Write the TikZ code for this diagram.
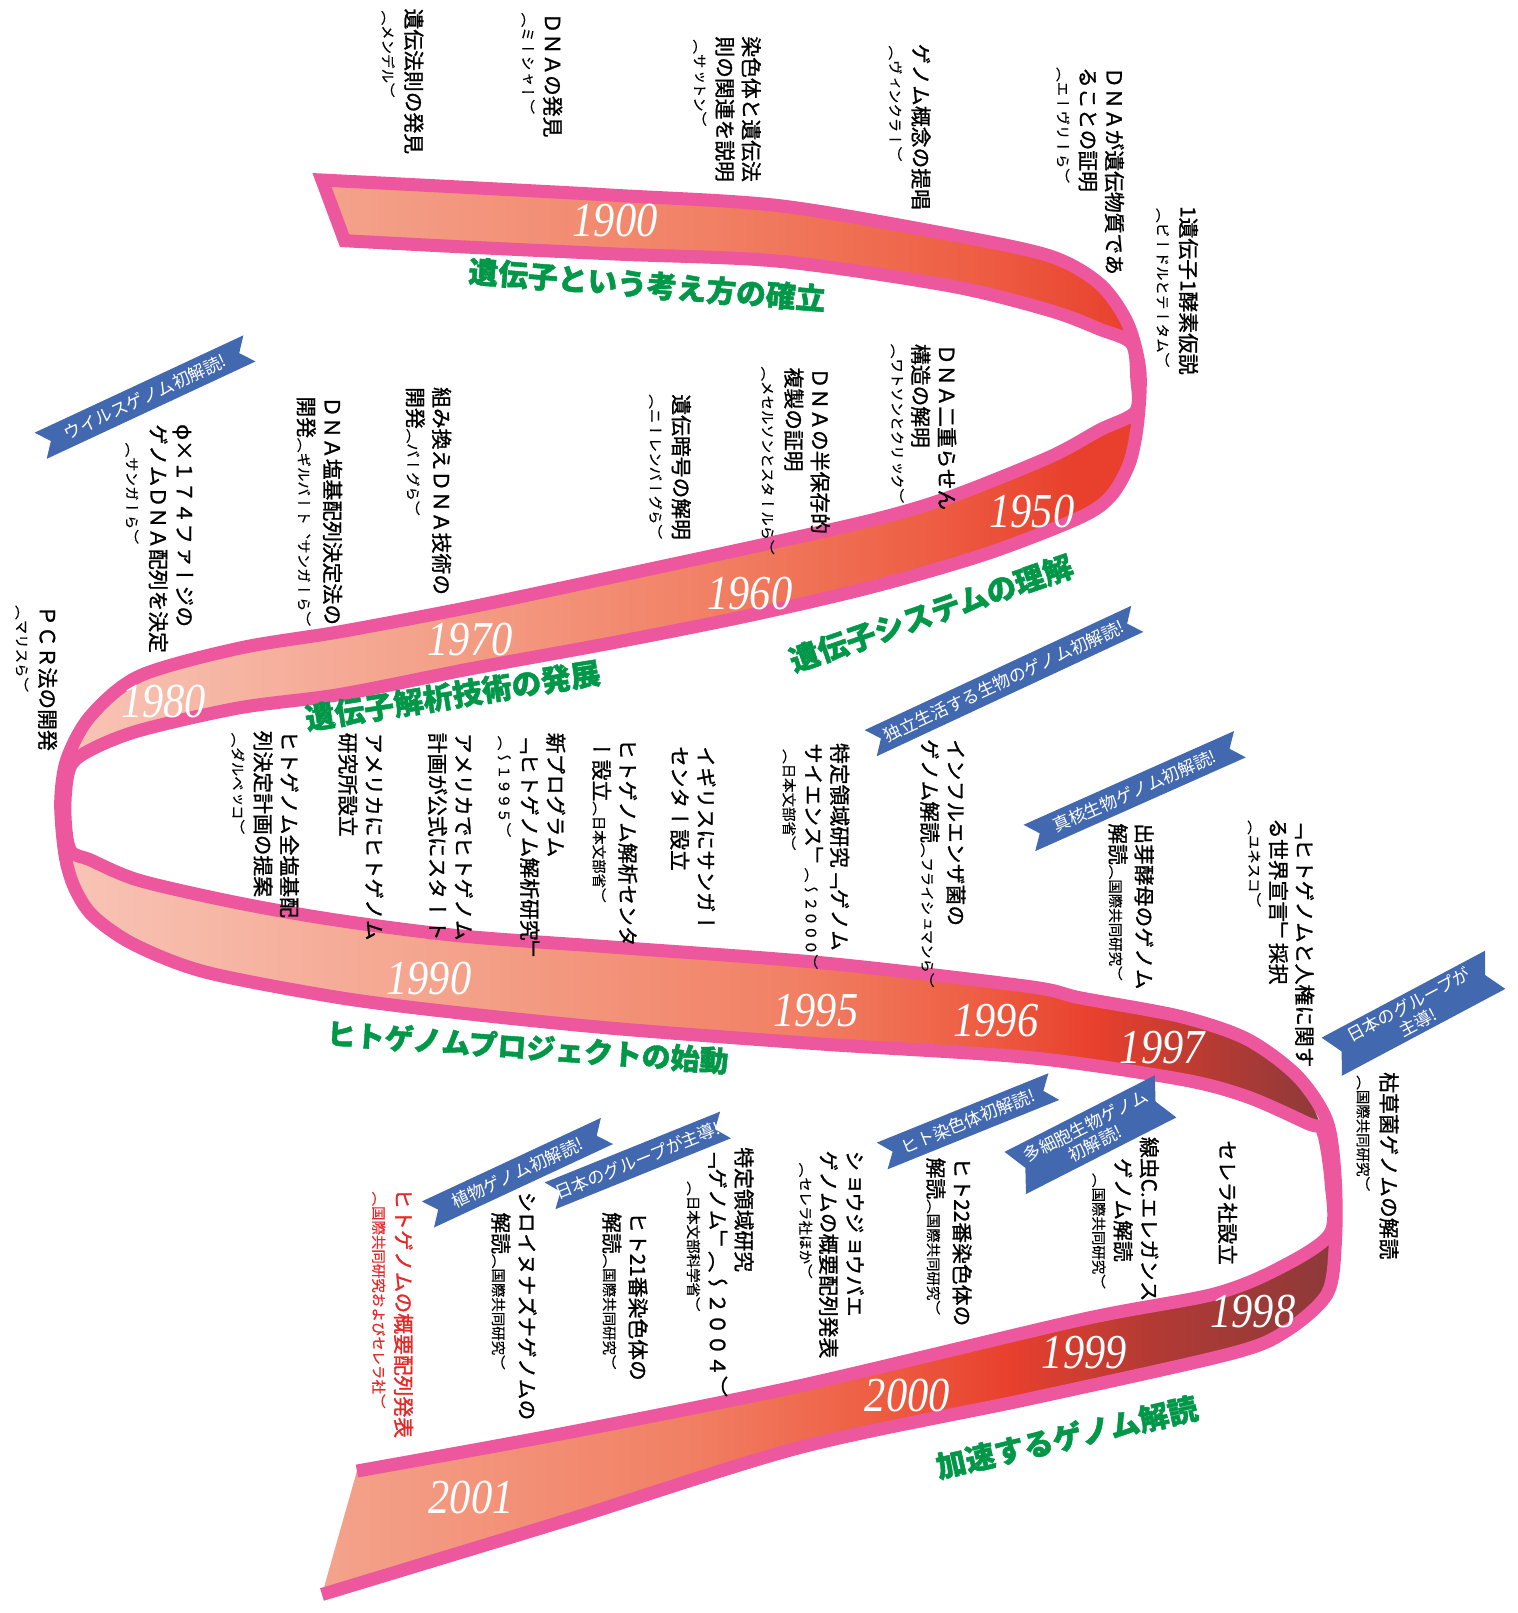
\documentclass[tikz,border=0pt]{standalone}
\usepackage{fontspec}
\usepackage{tikz}
\usetikzlibrary{positioning,calc}
\newfontfamily\jpfont{Noto Sans CJK JP}
\newfontfamily\erafont{Noto Sans CJK JP}[BoldFeatures={FakeBold=1.5}]
\newfontfamily\tatefont{Noto Sans CJK JP}[Vertical=RotatedGlyphs,FakeBold=1.2]
\newfontfamily\tatesmallfont{Noto Sans CJK JP}[Vertical=RotatedGlyphs,FakeBold=0.5]
\newfontfamily\yearfont{Liberation Serif}
\definecolor{ribbonpink}{RGB}{236,87,157}
\definecolor{titlegreen}{RGB}{0,152,72}
\definecolor{bannerblue}{RGB}{66,104,176}
\definecolor{notered}{RGB}{230,40,40}
\definecolor{ribc1}{RGB}{248,196,182}
\definecolor{ribc2}{RGB}{244,163,140}
\definecolor{ribc3}{RGB}{241,128,100}
\definecolor{ribc4}{RGB}{238,95,68}
\definecolor{ribc5}{RGB}{232,64,45}
\definecolor{ribc6}{RGB}{178,58,52}
\definecolor{ribc7}{RGB}{140,58,58}
\pgfdeclarehorizontalshading{ribA}{100bp}{color(0bp)=(ribc2); color(25bp)=(ribc2); color(49bp)=(ribc3); color(65bp)=(ribc4); color(75bp)=(ribc5); color(100bp)=(ribc5)}
\pgfdeclarehorizontalshading{ribB}{100bp}{color(0bp)=(ribc1); color(25bp)=(ribc1); color(41bp)=(ribc2); color(55bp)=(ribc3); color(65bp)=(ribc4); color(72bp)=(ribc5); color(100bp)=(ribc5)}
\pgfdeclarehorizontalshading{ribC}{100bp}{color(0bp)=(ribc1); color(25bp)=(ribc1); color(40bp)=(ribc2); color(54bp)=(ribc3); color(61bp)=(ribc4); color(66bp)=(ribc5); color(71bp)=(ribc6); color(75bp)=(ribc7); color(100bp)=(ribc7)}
\pgfdeclarehorizontalshading{ribD}{100bp}{color(0bp)=(ribc2); color(25bp)=(ribc2); color(43bp)=(ribc3); color(52bp)=(ribc4); color(59bp)=(ribc5); color(66bp)=(ribc6); color(75bp)=(ribc7); color(100bp)=(ribc7)}
\newcommand\smtext[1]{{\tatesmallfont\fontsize{8}{9.5}\selectfont #1}}
\newcommand\bannerflag[6]{%
  \begin{scope}[shift={(#2)}, rotate=#3]
    \fill[bannerblue] (-#4,-#5) -- (#4,-#5) -- ({#4-11},0) -- (#4,#5) -- (-#4,#5) -- ({-#4+11},0) -- cycle;
  \end{scope}
  \node[flagtext, rotate=#3] (#1) at (#2) {#6};}
\tikzset{
    tate/.style={rotate=-90,anchor=north west,align=left,inner sep=0pt,font=\tatefont\fontsize{11.5}{14.5}\selectfont},
    tatesmall/.style={tate,font=\tatesmallfont\fontsize{8}{9.5}\selectfont},
    era/.style={font=\erafont\bfseries\fontsize{16.5}{16.5}\selectfont,text=titlegreen,inner sep=0pt},
    year/.style={font=\yearfont\itshape\fontsize{27}{27}\selectfont,text=white,xscale=0.87,inner sep=0pt},
    flagtext/.style={font=\jpfont\fontsize{9.5}{11}\selectfont,text=white,align=center,inner sep=0pt},
    edge/.style={ribbonpink,line width=7.2pt,line join=miter}
}
\begin{document}
\begin{tikzpicture}[x=0.2mm,y=-0.2mm]
    \fill[white] (0,0) rectangle (1475,1568);
    \useasboundingbox (0,0) rectangle (1475,1568);
    % ribbon
    \shade[shading=ribA] plot[smooth] coordinates {(313,175) (450,182) (600,190) (758,200) (924,228) (1021,249) (1069,276) (1100,334)}
        -- plot[smooth] coordinates {(1069,320) (1021,302) (924,278) (758,254) (600,247) (450,240) (335,234)} -- cycle;
    \shade[shading=ribB] plot[smooth] coordinates {(1104,400) (1069,418) (1021,444) (924,483) (850,505) (730,532) (600,560) (458,590) (331,614) (233,630) (136,657) (88,696) (68,746)}
        -- plot[smooth] coordinates {(88,729) (136,710) (233,688) (331,675) (458,650) (600,624) (730,598) (850,570) (960,538) (1050,503) (1080,482) (1098,450) (1106,410)} -- cycle;
    \shade[shading=ribC] plot[smooth] coordinates {(68,826) (88,836) (136,856) (233,878) (331,895) (450,910) (600,921) (800,936) (1000,959) (1050,970) (1147,988) (1212,1010) (1261,1046) (1286,1100)}
        -- plot[smooth] coordinates {(1271,1092) (1212,1066) (1147,1049) (1000,1028) (800,1015) (600,1000) (450,985) (331,970) (200,945) (130,918) (90,890) (72,862) (64,830)} -- cycle;
    \shade[shading=ribD] plot[smooth] coordinates {(1293,1199) (1245,1232) (1180,1258) (1050,1283) (778,1347) (550,1393) (347,1430)}
        -- plot[smooth] coordinates {(313,1550) (550,1478) (778,1407) (1000,1360) (1196,1316) (1250,1294) (1290,1258) (1298,1210)} -- cycle;
    \draw[edge] plot[smooth] coordinates {(313,1550) (550,1478) (778,1407) (1000,1360) (1196,1316) (1250,1294) (1290,1258) (1298,1210) (1298,1147) (1290,1090) (1261,1046) (1212,1010) (1147,988) (1050,970) (1000,959) (800,936) (600,921) (450,910) (331,895) (233,878) (136,856) (88,836) (68,826) (63,786) (68,746) (88,729) (136,710) (233,688) (331,675) (458,650) (600,624) (730,598) (850,570) (960,538) (1050,503) (1080,482) (1098,450) (1106,410) (1108,360) (1096,314) (1069,276) (1021,249) (924,228) (758,200) (600,190) (450,182) (313,175)}
        -- plot[smooth] coordinates {(335,234) (450,240) (600,247) (758,254) (924,278) (1021,302) (1069,320) (1100,334) (1105,367) (1104,400) (1069,418) (1021,444) (924,483) (850,505) (730,532) (600,560) (458,590) (331,614) (233,630) (136,657) (88,696) (65,738) (59,780) (63,830) (72,862) (90,890) (130,918) (200,945) (331,970) (450,985) (600,1000) (800,1015) (1000,1028) (1147,1049) (1212,1066) (1271,1092) (1286,1100) (1294,1150) (1293,1199) (1245,1232) (1180,1258) (1050,1283) (778,1347) (550,1393) (347,1430)};
    % years
    \node[year] (y1900) at (598,214) {1900};
    \node[year] (y1950) at (1003,497) {1950};
    \node[year] (y1960) at (729,577) {1960};
    \node[year] (y1970) at (457,622) {1970};
    \node[year] (y1980) at (159,682) {1980};
    \node[year] (y1990) at (417,951) {1990};
    \node[year] (y1995) at (793,982) {1995};
    \node[year] (y1996) at (968,992) {1996};
    \node[year] (y1997) at (1130,1018) {1997};
    \node[year] (y1998) at (1218,1275) {1998};
    \node[year] (y1999) at (1054,1315) {1999};
    \node[year] (y2000) at (882,1357) {2000};
    \node[year] (y2001) at (458,1456) {2001};
    % eras
    \node[era,rotate=-4.5] (idenshi) at (629,277) {遺伝子という考え方の確立};
    \node[era,rotate=19] (system) at (905,596) {遺伝子システムの理解};
    \node[era,rotate=9] (kaiseki) at (440,676) {遺伝子解析技術の発展};
    \node[era,rotate=-4,font=\erafont\bfseries\fontsize{16}{16}\selectfont] (hgproj) at (513,1018) {ヒトゲノムプロジェクトの始動};
    \node[era,rotate=13] (kasoku) at (1037,1397) {加速するゲノム解読};
    % events
    \node[tate] (mendel) at (412,8) {遺伝法則の発見};
    \node[tatesmall] (mendelp) at (384,10) {（メンデル）};
    \node[tate] (miescher) at (547,12) {ＤＮＡの発見};
    \node[tatesmall] (miescherp) at (520,12) {（ミーシャー）};
    \node[tate] (sutton) at (740,35) {染色体と遺伝法\\則の関連を説明};
    \node[tatesmall] (suttonp) at (687,38) {（サットン）};
    \node[tate] (winkler) at (905,42) {ゲノム概念の提唱};
    \node[tatesmall] (winklerp) at (877,44) {（ヴィンクラー）};
    \node[tate] (avery) at (1093,65) {ＤＮＡが遺伝物質であ\\ることの証明};
    \node[tatesmall] (averyp) at (1040,65) {（エーヴリーら）};
    \node[tate] (beadle) at (1165,200) {1遺伝子1酵素仮説};
    \node[tatesmall] (beadlep) at (1137,202) {（ビードルとテータム）};
    \node[tate] (watson) at (930,334) {ＤＮＡ二重らせん\\構造の解明};
    \node[tatesmall] (watsonp) at (879,334) {（ワトソンとクリック）};
    \node[tate] (meselson) at (807,357) {ＤＮＡの半保存的\\複製の証明};
    \node[tatesmall] (meselsonp) at (753,356) {（メセルソンとスタールら）};
    \node[tate] (nirenberg) at (672,383) {遺伝暗号の解明};
    \node[tatesmall] (nirenbergp) at (644,383) {（ニーレンバーグら）};
    \node[tate] (berg) at (439,376) {組み換えＤＮＡ技術の\\開発\smtext{（バーグら）}};
    \node[tate] (gilbert) at (333,385) {ＤＮＡ塩基配列決定法の\\開発\smtext{（ギルバート、サンガーら）}};
    \node[tate] (phix) at (188,412) {φ×１７４ファージの\\ゲノムＤＮＡ配列を決定};
    \node[tatesmall] (phixp) at (135,430) {（サンガーら）};
    \node[tate] (pcr) at (56,588) {ＰＣＲ法の開発};
    \node[tatesmall] (pcrp) at (28,588) {（マリスら）};
    \node[tate] (dulbecco) at (291,710) {ヒトゲノム全塩基配\\列決定計画の提案};
    \node[tatesmall] (dulbeccop) at (238,712) {（ダルベッコ）};
    \node[tate] (nchgr) at (373,712) {アメリカにヒトゲノム\\研究所設立};
    \node[tate] (hgp) at (460,712) {アメリカでヒトゲノム\\計画が公式にスタート};
    \node[tate] (newprog) at (550,712) {新プログラム\\「ヒトゲノム解析研究」};
    \node[tatesmall] (newprogp) at (497,715) {（～１９９５）};
    \node[tate] (hgcenter) at (620,718) {ヒトゲノム解析センタ\\ー設立\smtext{（日本文部省）}};
    \node[tate] (sanger) at (696,725) {イギリスにサンガー\\センター設立};
    \node[tate] (gscience) at (826,722) {特定領域研究「ゲノム\\サイエンス」\smtext{（～２０００）}};
    \node[tatesmall] (gsciencep) at (774,728) {（日本文部省）};
    \node[tate] (haemo) at (939,718) {インフルエンザ菌の\\ゲノム解読\smtext{（フライシュマンら）}};
    \node[tate] (yeast) at (1122,800) {出芽酵母のゲノム\\解読\smtext{（国際共同研究）}};
    \node[tate] (unesco) at (1278,795) {「ヒトゲノムと人権に関す\\る世界宣言」採択};
    \node[tatesmall] (unescop) at (1226,797) {（ユネスコ）};
    \node[tate] (subtilis) at (1360,1042) {枯草菌ゲノムの解読};
    \node[tatesmall] (subtilisp) at (1332,1045) {（国際共同研究）};
    \node[tate] (celera) at (1203,1108) {セレラ社設立};
    \node[tate] (elegans) at (1127,1105) {線虫C.エレガンス\\　ゲノム解読};
    \node[tatesmall] (elegansp) at (1075,1140) {（国際共同研究）};
    \node[tate] (chr22) at (945,1125) {ヒト22番染色体の\\解読\smtext{（国際共同研究）}};
    \node[tate] (fly) at (840,1118) {ショウジョウバエ\\ゲノムの概要配列発表};
    \node[tatesmall] (flyp) at (790,1130) {（セレラ社ほか）};
    \node[tate] (genome) at (733,1115) {特定領域研究\\「ゲノム」（～２００４）};
    \node[tatesmall] (genomep) at (681,1148) {（日本文部科学省）};
    \node[tate] (chr21) at (630,1178) {ヒト21番染色体の\\解読\smtext{（国際共同研究）}};
    \node[tate] (arabid) at (522,1158) {シロイヌナズナゲノムの\\　解読\smtext{（国際共同研究）}};
    \node[tate,text=notered] (draft) at (402,1155) {ヒトゲノムの概要配列発表};
    \node[tatesmall,text=notered] (draftp) at (375,1158) {（国際共同研究およびセレラ社）};
    % banners
    \bannerflag{virus}{141,386}{25}{112}{14}{ウイルスゲノム初解読!}
    \bannerflag{freeliving}{976,662}{25}{143}{14}{独立生活する生物のゲノム初解読!}
    \bannerflag{eukaryote}{1103,769}{24}{112}{14}{真核生物ゲノム初解読!}
    \bannerflag{japan}{1374,985}{28}{90}{21}{日本のグループが\\主導!}
    \bannerflag{chromosome}{941,1090}{22}{90}{14}{ヒト染色体初解読!}
    \bannerflag{multicell}{1060,1103}{27}{82}{23}{多細胞生物ゲノム\\初解読!}
    \bannerflag{plant}{503,1140}{25}{96}{14}{植物ゲノム初解読!}
    \bannerflag{japanlead}{620,1128}{22}{92}{14}{日本のグループが主導!}
\end{tikzpicture}
\end{document}
